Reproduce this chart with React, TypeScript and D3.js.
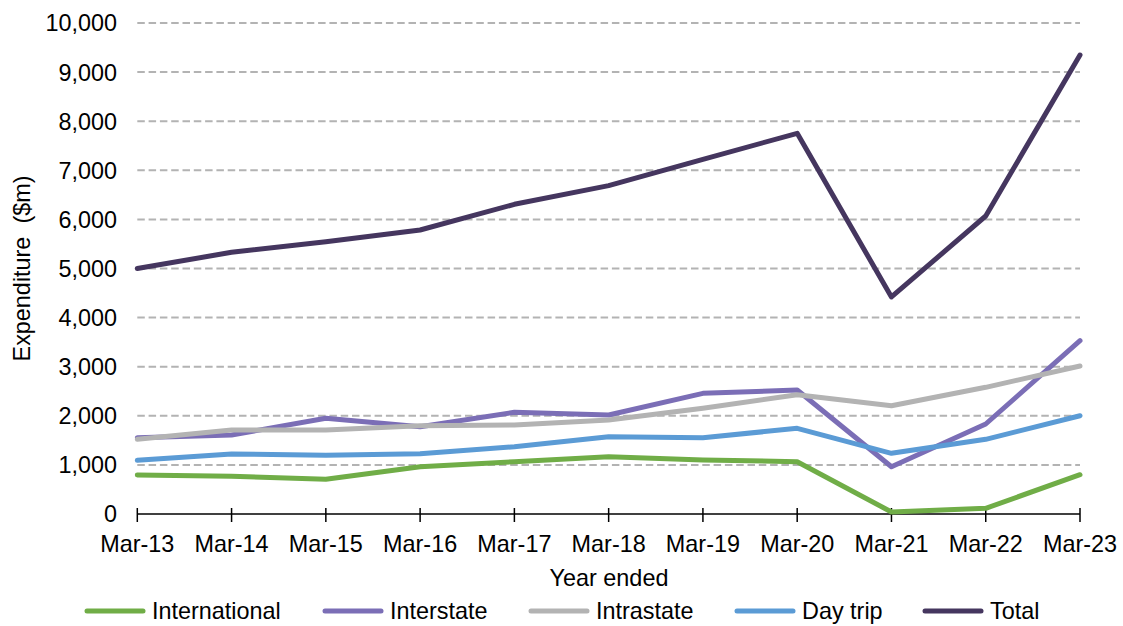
import React from "react";
import * as d3 from "d3";

const categories = [
  "Mar-13", "Mar-14", "Mar-15", "Mar-16", "Mar-17", "Mar-18",
  "Mar-19", "Mar-20", "Mar-21", "Mar-22", "Mar-23",
];

const international = [794, 768, 707, 963, 1065, 1167, 1100, 1065, 41, 116, 800];
const interstate = [1554, 1609, 1949, 1778, 2071, 2016, 2458, 2525, 963, 1833, 3530];
const intrastate = [1521, 1711, 1711, 1798, 1813, 1914, 2152, 2430, 2206, 2580, 3014];
const dayTrip = [1094, 1222, 1195, 1228, 1371, 1575, 1554, 1745, 1236, 1521, 2002];
const total = [5000, 5330, 5546, 5784, 6307, 6687, 7224, 7753, 4420, 6069, 9348];

const yTicks = [0, 1000, 2000, 3000, 4000, 5000, 6000, 7000, 8000, 9000, 10000];

const seriesNames = ["International", "Interstate", "Intrastate", "Day trip", "Total"];
const seriesValues = [international, interstate, intrastate, dayTrip, total];
const seriesColors = ["#70AD47", "#7B6EB6", "#B3B3B3", "#5B9BD5", "#45365F"];

const W = 1123;
const H = 626;
const FONT = "'Liberation Sans', Arial, sans-serif";
const FS = 23.4;

export default function App() {
  const x = d3.scalePoint<string>().domain(categories).range([137.3, 1080]);
  const y = d3.scaleLinear().domain([0, 10000]).range([514, 23]);
  const fmt = d3.format(",");

  const line = d3
    .line<number>()
    .x((_, i) => x(categories[i]) as number)
    .y((d) => y(d));

  const legendX = [87, 325, 531, 737, 925];

  return (
    <svg
      width={W}
      height={H}
      style={{ position: "absolute", left: 0, top: 0, background: "#fff" }}
      fontFamily={FONT}
    >
      {/* horizontal gridlines */}
      {yTicks.filter((t) => t > 0).map((t) => (
        <line
          key={t}
          x1={x(categories[0])}
          x2={x(categories[categories.length - 1])}
          y1={y(t)}
          y2={y(t)}
          stroke="#B3B3B3"
          strokeWidth={2}
          strokeDasharray="7.5,3.8"
        />
      ))}

      {/* y tick labels */}
      {yTicks.map((t) => (
        <text
          key={t}
          x={117}
          y={y(t)}
          dy="0.36em"
          textAnchor="end"
          fontSize={FS}
          fill="#000"
        >
          {fmt(t)}
        </text>
      ))}

      {/* x axis */}
      <line
        x1={x(categories[0])}
        x2={x(categories[categories.length - 1])}
        y1={y(0)}
        y2={y(0)}
        stroke="#000"
        strokeWidth={1.5}
      />
      {categories.map((c) => (
        <g key={c}>
          <line
            x1={x(c)}
            x2={x(c)}
            y1={y(0) - 6}
            y2={y(0) + 8}
            stroke="#000"
            strokeWidth={1.5}
          />
          <text
            x={x(c)}
            y={552}
            textAnchor="middle"
            fontSize={FS}
            fill="#000"
          >
            {c}
          </text>
        </g>
      ))}

      {/* axis titles */}
      <text x={609} y={586} textAnchor="middle" fontSize={FS} fill="#000">
        Year ended
      </text>
      <text
        transform={`translate(30, ${y(5000)}) rotate(-90)`}
        textAnchor="middle"
        fontSize={FS}
        fill="#000"
        style={{ whiteSpace: "pre" }}
      >
        {"Expenditure  ($m)"}
      </text>

      {/* series lines */}
      {seriesValues.map((vals, i) => (
        <path
          key={seriesNames[i]}
          d={line(vals) || ""}
          fill="none"
          stroke={seriesColors[i]}
          strokeWidth={5}
          strokeLinejoin="round"
          strokeLinecap="round"
        />
      ))}

      {/* legend */}
      {seriesNames.map((name, i) => (
        <g key={name}>
          <line
            x1={legendX[i]}
            x2={legendX[i] + 56}
            y1={611}
            y2={611}
            stroke={seriesColors[i]}
            strokeWidth={5}
            strokeLinecap="round"
          />
          <text
            x={legendX[i] + 65}
            y={611}
            dy="0.36em"
            fontSize={FS}
            fill="#000"
          >
            {name}
          </text>
        </g>
      ))}
    </svg>
  );
}
